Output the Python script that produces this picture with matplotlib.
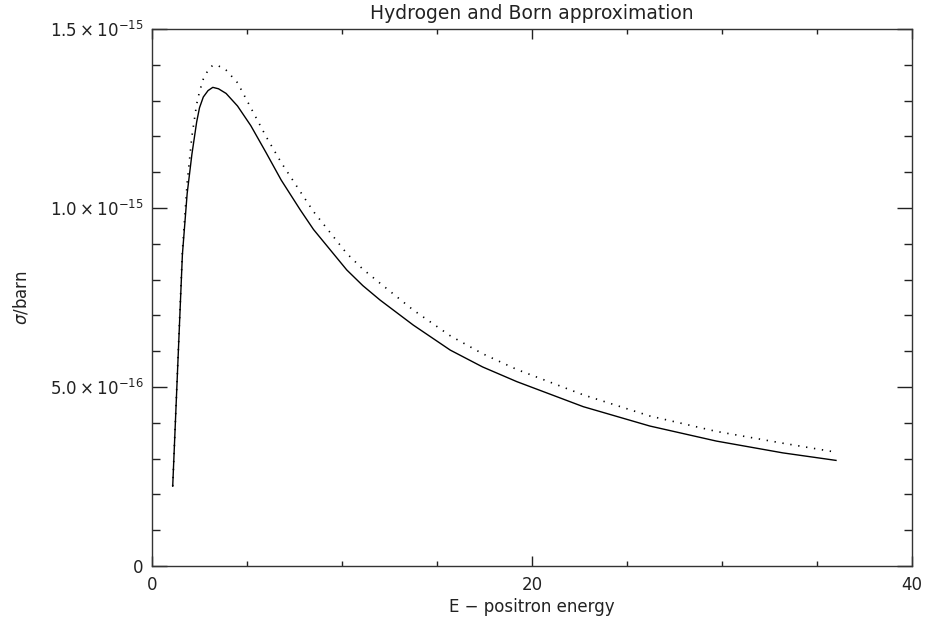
import matplotlib
matplotlib.use("Agg")
import matplotlib.pyplot as plt
from matplotlib.ticker import MultipleLocator, FixedLocator, FixedFormatter

# Data (energy vs cross section in units of 1e-15 barn)
energy = [1.09, 1.6, 1.85, 2.1, 2.35, 2.5, 2.7, 2.95, 3.2, 3.5, 3.9, 4.5, 5.2, 6.0, 6.8,
          7.8, 8.5, 10.25, 11.1, 12.0, 13.75, 15.7, 17.4, 19.2, 22.7, 26.2, 29.7, 33.2, 36.0]
sigma_solid = [0.223, 0.87, 1.04, 1.15, 1.24, 1.28, 1.31, 1.328, 1.337, 1.333, 1.320,
               1.285, 1.23, 1.155, 1.078, 0.995, 0.94, 0.827, 0.783, 0.743, 0.673, 0.603,
               0.556, 0.515, 0.445, 0.391, 0.349, 0.316, 0.295]
sigma_dotted = [0.223, 0.88, 1.07, 1.20, 1.29, 1.325, 1.36, 1.385, 1.399, 1.397, 1.385,
                1.35, 1.28, 1.20, 1.127, 1.046, 0.99, 0.873, 0.829, 0.790, 0.715, 0.643,
                0.593, 0.549, 0.478, 0.419, 0.376, 0.343, 0.318]
scale = 1e-15

ytick_vals = [0, 5e-16, 1e-15, 1.5e-15]
ytick_labels = ["0", r"$5.0\times10^{-16}$", r"$1.0\times10^{-15}$", r"$1.5\times10^{-15}$"]
xtick_vals = [0, 20, 40]
xtick_labels = ["0", "20", "40"]

fig = plt.figure(figsize=(9.26, 6.25), dpi=100)
ax = fig.add_axes([152/926, 59/625, 760/926, 537/625])

ys = [v * scale for v in sigma_solid]
yd = [v * scale for v in sigma_dotted]
ax.plot(energy, ys, color="black", lw=1.0)
ax.plot(energy, yd, color="black", lw=1.2, linestyle=(0, (0.8, 4.0)))

ax.set_xlim(0, 40)
ax.set_ylim(0, 1.5e-15)

ax.xaxis.set_major_locator(FixedLocator(xtick_vals))
ax.xaxis.set_major_formatter(FixedFormatter(xtick_labels))
ax.xaxis.set_minor_locator(MultipleLocator(5))
ax.yaxis.set_major_locator(FixedLocator(ytick_vals))
ax.yaxis.set_major_formatter(FixedFormatter(ytick_labels))
ax.yaxis.set_minor_locator(MultipleLocator(1e-16))

ax.tick_params(axis="x", which="major", direction="in", length=7.5, width=1,
               top=True, bottom=True, labelsize=12, pad=7, colors="#222222")
ax.tick_params(axis="x", which="minor", direction="in", length=3.7, width=1,
               top=True, bottom=True, colors="#222222")
ax.tick_params(axis="y", which="major", direction="in", length=11, width=1,
               left=True, right=True, labelsize=12, pad=6, colors="#222222")
ax.tick_params(axis="y", which="minor", direction="in", length=5.5, width=1,
               left=True, right=True, colors="#222222")

for s in ax.spines.values():
    s.set_linewidth(1.0)
    s.set_color("#333333")

ax.set_title("Hydrogen and Born approximation", fontsize=13.5, pad=7, color="#222222")
ax.set_xlabel("E \u2212 positron energy", fontsize=12, labelpad=3, color="#222222")
ax.set_ylabel(r"$\sigma$/barn", fontsize=12, labelpad=14, color="#222222")

fig.savefig("out.png", dpi=100)
